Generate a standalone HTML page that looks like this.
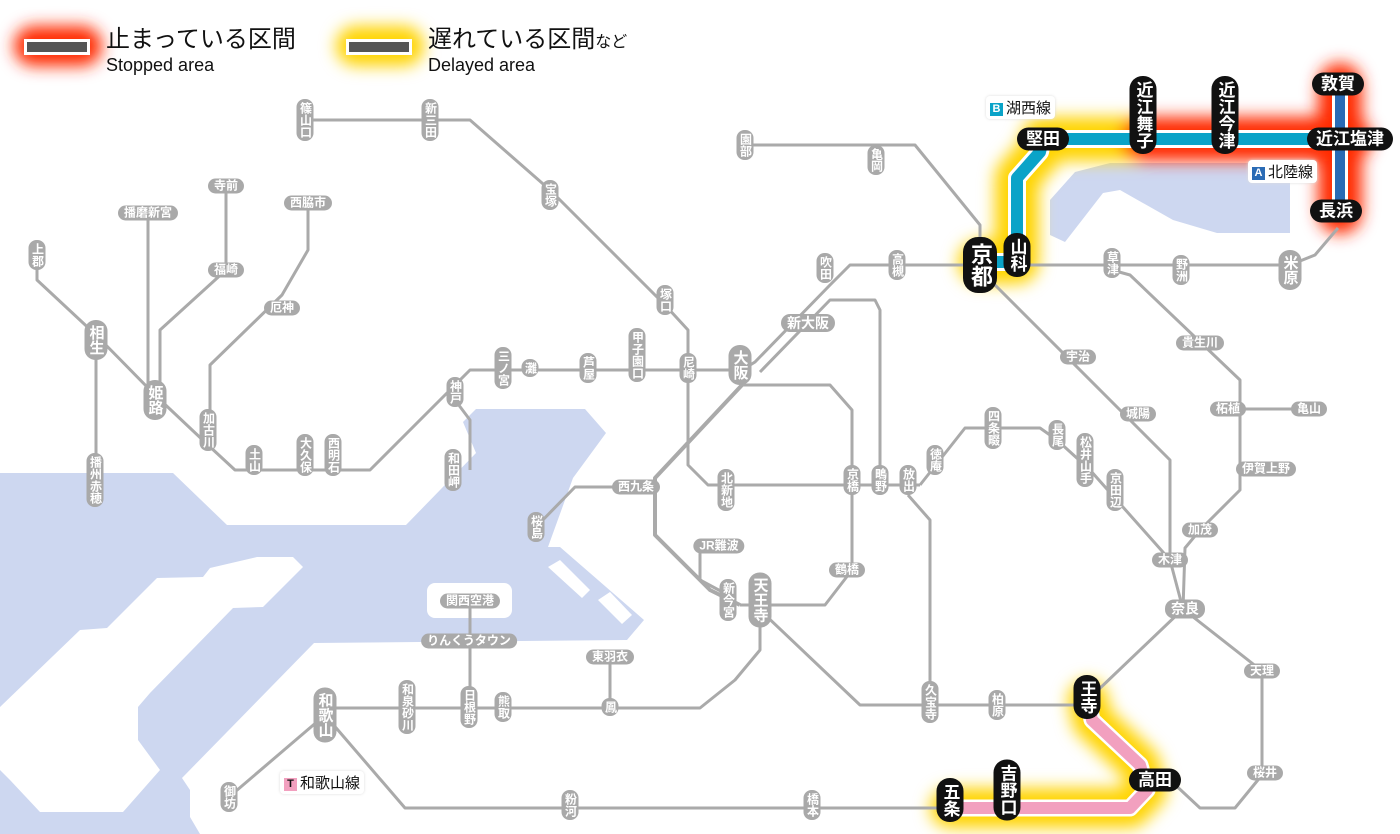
<!DOCTYPE html>
<html><head><meta charset="utf-8">
<style>
body{margin:0;background:#fff;}
#w{position:relative;width:1400px;height:834px;overflow:hidden;background:#fff;font-family:"Liberation Sans","Noto Sans CJK JP",sans-serif;}
svg{position:absolute;left:0;top:0;}
.s{position:absolute;transform:translate(-50%,-50%);background:#a9a9a9;color:#fff;border-radius:8px;font-size:12px;line-height:13px;padding:3px 2px;writing-mode:vertical-rl;white-space:nowrap;font-weight:bold;}
.h{writing-mode:horizontal-tb;padding:1px 6px;border-radius:9px;}
.b{background:#111;font-size:17px;line-height:19px;padding:5px 4px;border-radius:13px;}
.b.h{padding:2px 9px;}
.big{font-size:15px;line-height:17px;padding:5px 3px;border-radius:11px;}
.bb{font-size:22px;line-height:24px;padding:6px 5px;border-radius:15px;}
.lab{position:absolute;background:#fff;font-size:15px;padding:1px 4px;border-radius:4px;box-shadow:0 0 3px #ddd;white-space:nowrap;color:#111;}
.lab i{font-style:normal;display:inline-block;width:13px;height:13px;line-height:13px;font-size:11px;color:#fff;text-align:center;margin-right:3px;font-weight:bold;vertical-align:1px;}
.lg{position:absolute;color:#111;white-space:nowrap;line-height:1;}
</style></head><body><div id="w">
<svg width="1400" height="834" viewBox="0 0 1400 834">
<defs>
<filter id="bl" x="-30%" y="-30%" width="160%" height="160%"><feGaussianBlur stdDeviation="8"/></filter>
</defs>
<g fill="#cdd7f0">
<polygon points="0,473 173,473 227,525 406,525 476,453 463,422 476,409 585,409 606,433 573,478 548,547 560,547 644,620 627,640 314,643 182,778 190,790 190,817 200,834 0,834"/>
<polygon points="1050,200 1075,172 1110,163 1290,163 1290,233 1217,233 1173,220 1120,190 1103,193 1065,242 1050,235"/>
</g>
<g fill="#fff">
<polygon points="257,557 293,557 303,567 263,607 233,608 150,693 138,707 138,740 160,770 123,812 40,812 10,780 0,770 0,707 80,630 107,628 157,578 203,577 210,568"/>
<rect x="427" y="583" width="85" height="35" rx="8"/>
<polygon points="548,567 560,560 590,590 582,598"/>
<polygon points="598,600 610,592 632,615 622,624"/>
</g>
<g fill="none" stroke-linecap="round" stroke-linejoin="round" filter="url(#bl)">
<polyline points="980,262 1017,262 1017,178 1040,152 1043,139 1143,139" stroke="#ffd400" stroke-width="44"/>
<polyline points="1143,139 1350,139" stroke="#ff2a00" stroke-width="44"/>
<polyline points="1340,85 1340,212" stroke="#ff2a00" stroke-width="44"/>
<polyline points="1088,700 1092,720 1140,765 1147,790 1130,808 950,808" stroke="#ffd400" stroke-width="40"/>
<rect x="22" y="34" width="72" height="24" rx="12" fill="#ff2a00" stroke="#ff2a00" stroke-width="16"/>
<rect x="344" y="34" width="72" height="24" rx="12" fill="#ffd400" stroke="#ffd400" stroke-width="16"/>
</g>
<rect x="24" y="39" width="66" height="16" fill="#fff"/><rect x="27" y="42" width="60" height="10" fill="#555"/>
<rect x="346" y="39" width="66" height="16" fill="#fff"/><rect x="349" y="42" width="60" height="10" fill="#555"/>
<g fill="none" stroke="#aaa" stroke-width="3" stroke-linejoin="round">
<polyline points="305,120 470,120 550,190 665,305 688,330 688,465 708,485 920,485"/>
<polyline points="745,145 915,145 980,225 980,262"/>
<polyline points="37,255 37,280 96,335 155,395 208,445 235,470 370,470 455,385 470,370 742,370 755,362 830,285 850,265 1290,265 1315,255 1338,228"/>
<polyline points="96,340 96,480"/>
<polyline points="148,213 148,390"/>
<polyline points="226,186 226,270 160,330 160,390"/>
<polyline points="308,203 308,250 282,295 210,365 210,430"/>
<polyline points="455,400 470,420 470,470" />
<polyline points="760,372 830,300 875,300 880,310 880,480"/>
<polyline points="740,385 830,385 852,410 852,570 825,605 740,605"/>
<polyline points="742,385 655,478 655,535 710,590 740,605" stroke-width="4"/>
<polyline points="636,487 575,487 536,527"/>
<polyline points="700,546 700,580 728,595"/>
<polyline points="760,600 760,650 735,680 700,708 320,708"/>
<polyline points="610,657 610,707"/>
<polyline points="470,601 470,707"/>
<polyline points="760,610 860,705 1087,705"/>
<polyline points="908,495 930,520 930,705"/>
<polyline points="920,485 965,428 1040,428 1057,440 1090,470 1170,560"/>
<polyline points="325,715 229,797"/>
<polyline points="325,715 405,808 950,808"/>
<polyline points="985,275 1130,420 1170,460 1170,560 1183,609"/>
<polyline points="1112,270 1130,275 1240,380 1240,490 1200,530 1185,548 1183,609"/>
<polyline points="1240,409 1309,409"/>
<polyline points="1183,609 1262,671 1262,775 1235,808 1200,808 1170,780"/>
<polyline points="1183,609 1095,693"/>
</g>
<g fill="none" stroke-linejoin="round">
<polyline points="980,262 1017,262 1017,178 1040,152 1043,139 1350,139" stroke="#fff" stroke-width="18"/>
<polyline points="980,262 1017,262 1017,178 1040,152 1043,139 1350,139" stroke="#0aa3c8" stroke-width="12"/>
<polyline points="1340,85 1340,212" stroke="#fff" stroke-width="16"/>
<polyline points="1340,85 1340,212" stroke="#2a6bb5" stroke-width="10"/>
<polyline points="1088,700 1092,720 1140,765 1147,790 1130,808 950,808" stroke="#fff" stroke-width="17"/>
<polyline points="1088,700 1092,720 1140,765 1147,790 1130,808 950,808" stroke="#f2a0bf" stroke-width="12"/>
</g>
</svg>

<div class="lg" style="left:106px;top:28px;font-size:24px;">止まっている区間</div>
<div class="lg" style="left:106px;top:56px;font-size:18px;">Stopped area</div>
<div class="lg" style="left:428px;top:28px;font-size:24px;">遅れている区間<span style="font-size:16px">など</span></div>
<div class="lg" style="left:428px;top:56px;font-size:18px;">Delayed area</div>

<div class="lab" style="left:986px;top:96px;"><i style="background:#0aa3c8">B</i>湖西線</div>
<div class="lab" style="left:1248px;top:160px;"><i style="background:#2a6bb5">A</i>北陸線</div>
<div class="lab" style="left:280px;top:771px;"><i style="background:#f2a0bf;color:#111">T</i>和歌山線</div>

<div class="s" style="left:305px;top:120px">篠山口</div>
<div class="s" style="left:430px;top:120px">新三田</div>
<div class="s" style="left:550px;top:195px">宝塚</div>
<div class="s" style="left:745px;top:145px">園部</div>
<div class="s" style="left:876px;top:160px">亀岡</div>
<div class="s h" style="left:226px;top:186px">寺前</div>
<div class="s h" style="left:148px;top:213px">播磨新宮</div>
<div class="s h" style="left:308px;top:203px">西脇市</div>
<div class="s" style="left:37px;top:255px">上郡</div>
<div class="s h" style="left:226px;top:270px">福崎</div>
<div class="s h" style="left:282px;top:308px">厄神</div>
<div class="s" style="left:825px;top:268px">吹田</div>
<div class="s" style="left:897px;top:265px">高槻</div>
<div class="s" style="left:665px;top:300px">塚口</div>
<div class="s h" style="left:808px;top:323px;font-size:14px;line-height:16px">新大阪</div>
<div class="s big" style="left:96px;top:340px">相生</div>
<div class="s big" style="left:155px;top:400px">姫路</div>
<div class="s" style="left:208px;top:430px">加古川</div>
<div class="s" style="left:503px;top:368px">三ノ宮</div>
<div class="s" style="left:530px;top:368px">灘</div>
<div class="s" style="left:588px;top:368px">芦屋</div>
<div class="s" style="left:637px;top:355px">甲子園口</div>
<div class="s" style="left:688px;top:368px">尼崎</div>
<div class="s big" style="left:740px;top:365px">大阪</div>
<div class="s" style="left:455px;top:392px">神戸</div>
<div class="s" style="left:254px;top:460px">土山</div>
<div class="s" style="left:305px;top:455px">大久保</div>
<div class="s" style="left:333px;top:455px">西明石</div>
<div class="s" style="left:453px;top:470px">和田岬</div>
<div class="s" style="left:95px;top:480px">播州赤穂</div>
<div class="s h" style="left:636px;top:487px">西九条</div>
<div class="s" style="left:726px;top:490px">北新地</div>
<div class="s" style="left:852px;top:480px">京橋</div>
<div class="s" style="left:880px;top:480px">鴫野</div>
<div class="s" style="left:908px;top:480px">放出</div>
<div class="s" style="left:935px;top:460px">徳庵</div>
<div class="s" style="left:993px;top:428px">四条畷</div>
<div class="s" style="left:1057px;top:435px">長尾</div>
<div class="s" style="left:1085px;top:460px">松井山手</div>
<div class="s" style="left:1115px;top:490px">京田辺</div>
<div class="s" style="left:536px;top:527px">桜島</div>
<div class="s h" style="left:719px;top:546px">JR難波</div>
<div class="s h" style="left:847px;top:570px">鶴橋</div>
<div class="s" style="left:728px;top:600px">新今宮</div>
<div class="s big" style="left:760px;top:600px">天王寺</div>
<div class="s h" style="left:470px;top:601px">関西空港</div>
<div class="s h" style="left:469px;top:641px">りんくうタウン</div>
<div class="s h" style="left:610px;top:657px">東羽衣</div>
<div class="s big" style="left:325px;top:715px">和歌山</div>
<div class="s" style="left:407px;top:707px">和泉砂川</div>
<div class="s" style="left:469px;top:707px">日根野</div>
<div class="s" style="left:503px;top:707px">熊取</div>
<div class="s" style="left:610px;top:707px">鳳</div>
<div class="s" style="left:930px;top:702px">久宝寺</div>
<div class="s" style="left:997px;top:705px">柏原</div>
<div class="s" style="left:229px;top:797px">御坊</div>
<div class="s" style="left:570px;top:805px">粉河</div>
<div class="s" style="left:812px;top:805px">橋本</div>
<div class="s h" style="left:1078px;top:357px">宇治</div>
<div class="s" style="left:1112px;top:263px">草津</div>
<div class="s" style="left:1181px;top:270px">野洲</div>
<div class="s big" style="left:1290px;top:270px">米原</div>
<div class="s h" style="left:1200px;top:343px">貴生川</div>
<div class="s h" style="left:1138px;top:414px">城陽</div>
<div class="s h" style="left:1228px;top:409px">柘植</div>
<div class="s h" style="left:1309px;top:409px">亀山</div>
<div class="s h" style="left:1266px;top:469px">伊賀上野</div>
<div class="s h" style="left:1200px;top:530px">加茂</div>
<div class="s h" style="left:1170px;top:560px">木津</div>
<div class="s h" style="left:1185px;top:609px;font-size:14px;line-height:17px">奈良</div>
<div class="s h" style="left:1262px;top:671px">天理</div>
<div class="s h" style="left:1265px;top:773px">桜井</div>

<div class="s b bb" style="left:980px;top:265px">京都</div>
<div class="s b" style="left:1017px;top:255px">山科</div>
<div class="s b h" style="left:1043px;top:139px">堅田</div>
<div class="s b" style="left:1143px;top:115px">近江舞子</div>
<div class="s b" style="left:1225px;top:115px">近江今津</div>
<div class="s b h" style="left:1338px;top:84px">敦賀</div>
<div class="s b h" style="left:1350px;top:139px">近江塩津</div>
<div class="s b h" style="left:1336px;top:211px">長浜</div>
<div class="s b" style="left:1087px;top:697px">王寺</div>
<div class="s b h" style="left:1155px;top:780px">高田</div>
<div class="s b" style="left:1007px;top:790px">吉野口</div>
<div class="s b" style="left:950px;top:800px">五条</div>
</div></body></html>
